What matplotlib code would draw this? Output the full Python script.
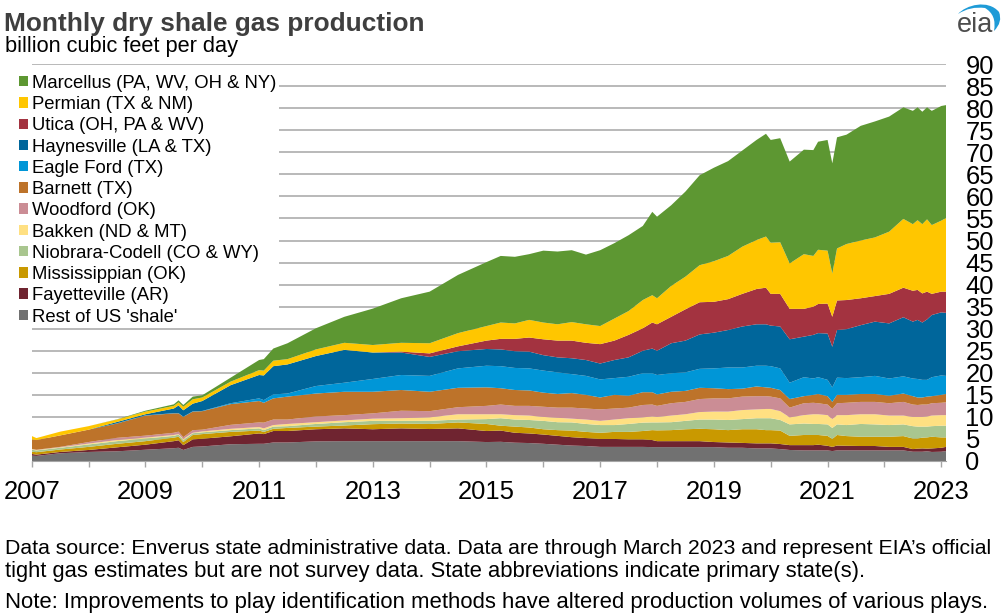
import numpy as np
import matplotlib
matplotlib.use('Agg')
import matplotlib.pyplot as plt
from matplotlib.patches import PathPatch
from matplotlib.path import Path

plt.rcParams['font.family'] = ['Liberation Sans', 'DejaVu Sans']

# months since Jan 2007
months = [0, 1, 6, 12, 18, 24, 30, 31, 32, 34, 36, 42,
          48, 49, 51, 54, 60, 66, 72, 78, 84, 90, 96,
          99, 102, 105, 108, 111, 114, 117, 120, 123, 126, 129, 131, 132, 135, 138, 141, 144,
          147, 150, 153, 155, 156, 158, 160, 163, 165, 166, 168, 169, 170,
          172, 175, 178, 181, 184, 186, 187, 188, 189, 190, 192, 193]

# upper edge of each play in the stack, bcf/d
rest = [1.2, 1.15, 1.75, 2.05, 2.2, 2.55, 2.9, 3.0, 2.5, 3.2, 3.3, 3.8,
        3.9, 3.9, 4.2, 4.2, 4.45, 4.5, 4.5, 4.5, 4.5, 4.5, 4.3,
        4.35, 4.15, 4.07, 3.9, 3.7, 3.5, 3.4, 3.2, 3.2, 3.2, 3.2, 3.15, 3.15, 3.15, 3.15, 3.15, 3.15,
        3.0, 3.0, 2.85, 2.85, 2.85, 2.7, 2.5, 2.4, 2.4, 2.4, 2.4, 2.25, 2.4,
        2.4, 2.4, 2.4, 2.4, 2.4, 2.1, 2.1, 2.1, 2.2, 2.05, 2.1, 2.25]
fayetteville = [1.6, 1.45, 2.05, 2.5, 3.1, 3.7, 4.5, 4.7, 3.6, 4.9, 5.05, 5.6,
                6.25, 6.1, 6.8, 6.8, 7.2, 7.4, 7.2, 7.4, 7.25, 7.4, 6.8,
                6.9, 6.4, 6.25, 6.0, 5.7, 5.4, 5.2, 5.0, 5.0, 4.9, 4.9, 4.75, 4.5, 4.5, 4.5, 4.5, 4.3,
                4.2, 4.1, 4.0, 4.0, 4.0, 3.85, 3.6, 3.6, 3.6, 3.7, 3.45, 3.2, 3.5,
                3.45, 3.4, 3.4, 3.2, 3.2, 2.7, 2.8, 2.85, 2.8, 2.85, 3.0, 3.2]
mississippian = [2.1, 2.0, 2.6, 3.2, 3.9, 4.5, 5.3, 5.5, 4.3, 5.9, 6.1, 6.6,
                 6.9, 6.6, 7.3, 7.5, 7.8, 8.05, 8.35, 8.5, 8.4, 8.75, 8.4,
                 8.0, 7.8, 7.6, 7.2, 7.0, 6.9, 6.6, 6.4, 6.6, 6.6, 6.8, 7.0, 6.95, 7.0, 7.2, 7.3, 7.2,
                 7.0, 7.2, 7.2, 7.0, 7.0, 6.9, 5.7, 5.9, 5.9, 5.9, 5.7, 5.0, 5.9,
                 5.65, 5.5, 5.5, 5.5, 5.65, 5.1, 5.1, 5.3, 5.35, 5.5, 5.35, 5.35]
niobrara = [2.55, 2.4, 3.0, 3.75, 4.5, 5.1, 5.7, 6.0, 4.7, 6.3, 6.5, 7.0,
            7.4, 7.0, 7.8, 7.9, 8.4, 8.8, 9.1, 9.1, 9.1, 9.4, 9.5,
            9.7, 9.4, 9.3, 9.1, 8.8, 8.75, 8.4, 8.15, 8.15, 8.4, 8.7, 8.75, 8.75, 8.8, 9.1, 9.4, 9.4,
            9.3, 9.5, 9.7, 9.7, 9.7, 9.3, 8.3, 8.5, 8.4, 8.4, 8.3, 7.5, 8.3,
            8.15, 8.4, 8.3, 8.15, 8.3, 7.9, 7.8, 7.8, 7.8, 7.9, 8.0, 8.0]
bakken = [2.7, 2.5, 3.1, 3.95, 4.75, 5.3, 5.9, 6.1, 5.0, 6.4, 6.7, 7.3,
          7.7, 7.4, 8.15, 8.4, 8.8, 9.2, 9.6, 9.7, 9.9, 10.6, 10.6,
          10.6, 10.4, 10.3, 10.0, 9.8, 9.6, 9.4, 9.1, 9.4, 9.7, 9.9, 10.1, 10.0, 10.3, 10.6, 11.1, 11.2,
          11.2, 11.55, 11.7, 11.8, 11.8, 11.3, 9.9, 10.4, 10.6, 10.6, 10.4, 9.5, 10.4,
          10.4, 10.6, 10.6, 10.3, 10.3, 10.0, 10.0, 10.0, 10.1, 10.3, 10.4, 10.4]
woodford = [2.75, 2.55, 3.2, 4.3, 5.25, 5.75, 6.4, 6.65, 5.4, 7.0, 7.1, 8.2,
            8.75, 8.7, 9.4, 9.4, 10.1, 10.4, 10.8, 11.4, 11.3, 12.2, 12.5,
            12.8, 12.5, 12.5, 12.3, 12.1, 12.1, 11.9, 11.7, 11.9, 12.1, 12.7, 12.8, 12.5, 13.1, 13.4, 14.05, 14.2,
            14.2, 14.6, 14.7, 14.7, 14.6, 14.2, 12.1, 13.1, 13.2, 13.1, 12.8, 11.8, 13.1,
            13.2, 13.4, 13.4, 13.1, 13.4, 12.8, 12.7, 12.8, 12.8, 13.1, 13.2, 13.3]
barnett = [4.9, 4.75, 5.8, 7.1, 8.5, 10.3, 10.8, 10.8, 10.0, 11.2, 11.3, 12.9,
           13.6, 13.2, 14.2, 14.6, 15.3, 15.7, 15.7, 16.1, 15.7, 16.6, 16.7,
           16.5, 16.1, 16.0, 15.5, 15.2, 15.4, 15.0, 14.4, 15.0, 14.8, 15.6, 15.6, 15.1, 15.7, 15.9, 16.6, 16.5,
           16.3, 16.4, 16.9, 16.7, 16.6, 16.1, 14.05, 14.7, 15.0, 15.2, 14.7, 13.4, 15.0,
           15.0, 15.2, 15.2, 14.8, 15.3, 14.7, 14.4, 14.4, 14.6, 14.7, 15.0, 15.2]
eagle_ford = [4.9, 4.75, 5.8, 7.1, 8.55, 10.35, 10.85, 10.85, 10.05, 11.25, 11.35, 13.1,
              14.2, 13.8, 15.1, 15.3, 17.0, 17.75, 18.6, 19.5, 19.3, 21.0, 21.6,
              21.5, 21.1, 21.0, 20.5, 20.1, 19.7, 19.3, 18.5, 18.8, 19.1, 19.9, 19.9, 19.5, 19.9, 20.1, 20.9, 21.0,
              21.2, 21.2, 21.6, 21.6, 21.5, 21.0, 17.75, 19.0, 18.7, 19.0, 18.4, 16.7, 18.9,
              18.8, 19.0, 19.3, 18.7, 19.2, 18.7, 18.6, 18.4, 18.4, 19.0, 19.4, 19.3]
haynesville = [4.9, 4.75, 5.8, 7.1, 8.85, 10.6, 11.9, 12.6, 11.5, 13.0, 13.6, 17.2,
               19.5, 19.4, 21.5, 21.9, 23.8, 25.2, 24.6, 24.6, 23.6, 24.9, 25.4,
               25.3, 24.9, 24.8, 24.0, 23.5, 23.3, 22.9, 22.1, 22.9, 23.5, 25.0, 25.5, 25.0, 26.7, 27.3, 28.7, 29.1,
               29.7, 30.5, 31.0, 31.0, 30.7, 30.5, 27.6, 28.2, 28.6, 29.0, 28.9, 25.9, 29.7,
               29.9, 30.8, 31.6, 31.2, 32.6, 31.6, 32.0, 31.4, 32.1, 33.1, 33.7, 33.6]
utica = [4.9, 4.75, 5.8, 7.1, 8.85, 10.6, 11.9, 12.6, 11.5, 13.0, 13.6, 17.2,
         19.5, 19.4, 21.5, 21.9, 23.8, 25.2, 24.6, 24.8, 24.4, 26.0, 27.3,
         27.7, 27.7, 28.0, 27.6, 27.3, 27.3, 26.8, 26.5, 27.3, 28.6, 30.1, 31.4, 31.0, 32.7, 34.4, 36.0, 36.1,
         36.7, 37.9, 39.0, 39.3, 37.9, 37.9, 34.5, 34.5, 35.0, 35.6, 35.7, 32.7, 36.4,
         36.5, 36.9, 37.4, 37.9, 39.3, 38.6, 38.8, 38.0, 38.4, 37.9, 38.4, 38.4]
permian = [5.67, 5.2, 6.65, 7.9, 9.4, 11.2, 12.5, 13.3, 12.3, 14.0, 14.4, 18.0,
           20.6, 20.5, 22.75, 23.1, 25.3, 26.8, 26.3, 26.8, 26.7, 29.0, 30.6,
           31.4, 31.2, 32.0, 31.4, 31.0, 31.5, 31.0, 30.6, 32.3, 34.0, 36.5, 37.6, 36.9, 39.7, 41.8, 44.4, 45.3,
           46.5, 48.6, 50.1, 50.9, 49.5, 49.6, 44.8, 46.9, 46.5, 47.9, 47.7, 42.5, 48.2,
           49.2, 50.0, 50.7, 52.0, 54.9, 53.7, 54.6, 53.7, 54.8, 53.5, 54.5, 55.1]
marcellus = [5.67, 5.2, 6.65, 7.9, 9.45, 11.4, 12.85, 13.75, 12.7, 14.6, 14.9, 18.9,
             22.9, 23.1, 25.5, 26.7, 30.1, 32.7, 34.55, 36.9, 38.4, 42.2, 45.1,
             46.5, 46.3, 46.9, 47.7, 47.5, 47.8, 46.8, 47.8, 49.4, 51.2, 53.3, 56.5, 55.4, 58.0, 61.1, 64.8, 66.5,
             68.0, 70.4, 72.8, 74.2, 72.8, 73.2, 67.9, 70.6, 70.5, 72.4, 72.8, 67.5, 73.4,
             74.0, 76.0, 77.0, 78.1, 80.2, 79.4, 80.2, 79.2, 80.2, 79.4, 80.5, 80.7]

labels = ["Rest of US 'shale'", 'Fayetteville (AR)', 'Mississippian (OK)', 'Niobrara-Codell (CO & WY)',
          'Bakken (ND & MT)', 'Woodford (OK)', 'Barnett (TX)', 'Eagle Ford (TX)',
          'Haynesville (LA & TX)', 'Utica (OH, PA & WV)', 'Permian (TX & NM)', 'Marcellus (PA, WV, OH & NY)']
colors = ['#717171', '#6F2430', '#C99900', '#A9C68F', '#FFE082', '#CB8D95',
          '#BD732A', '#0096D7', '#00669B', '#A33340', '#FFC600', '#5D9732']

year_ticks = list(range(0, 193, 12))
year_labels = ['2007', '', '2009', '', '2011', '', '2013', '', '2015', '', '2017', '',
               '2019', '', '2021', '', '2023']
y_ticks = list(range(0, 91, 5))

W, H = 1004, 615
fig = plt.figure(figsize=(W / 100, H / 100), dpi=100)
ax = fig.add_axes([31.7 / W, (H - 461) / H, (946 - 31.7) / W, (461 - 64.1) / H])

tops = np.array([rest, fayetteville, mississippian, niobrara, bakken, woodford,
                 barnett, eagle_ford, haynesville, utica, permian, marcellus])
bands = np.diff(tops, axis=0, prepend=0)
areas = ax.stackplot(months, bands, colors=colors, labels=labels, linewidth=0, zorder=2)

ax.set_xlim(0, 193)
ax.set_ylim(0, 90)
ax.set_xticks(year_ticks)
ax.set_xticklabels(year_labels, fontsize=18.4, color='black')
ax.set_yticks(y_ticks)
ax.set_yticklabels([str(v) for v in y_ticks], fontsize=18.4, color='black', ha='left')
ax.yaxis.tick_right()
ax.tick_params(axis='y', length=0, pad=14)
ax.tick_params(axis='x', length=4.5, width=1, color='#A6A6A6', pad=9)
ax.grid(axis='y', color='#A6A6A6', linewidth=1.1, zorder=1)
ax.set_axisbelow(True)
for name in ['top', 'left', 'right']:
    ax.spines[name].set_visible(False)
ax.spines['bottom'].set_color('#A6A6A6')

# legend goes top down, opposite of stack
handles = areas[::-1]
leg = ax.legend(handles, labels[::-1], loc='upper left', bbox_to_anchor=(16.2 / W, (H - 72) / H),
                bbox_transform=fig.transFigure, fontsize=13.3, frameon=True, facecolor='white',
                edgecolor='none', framealpha=1, fancybox=False, borderpad=0.15, borderaxespad=0,
                labelspacing=0.23, handlelength=0.49, handleheight=0.49, handletextpad=0.22)
leg.set_zorder(5)


def txt(x, y, s, **kw):
    fig.text(x / W, 1 - y / H, s, va='baseline', **kw)


txt(4, 31, 'Monthly dry shale gas production', fontsize=18.9, fontweight='bold', color='#3F3F3F')
txt(5, 52, 'billion cubic feet per day', fontsize=15.7, color='black')
txt(5, 554, 'Data source: Enverus state administrative data. Data are through March 2023 and represent EIA\u2019s official',
    fontsize=15.34, color='black')
txt(5, 577, 'tight gas estimates but are not survey data. State abbreviations indicate primary state(s).',
    fontsize=15.8, color='black')
txt(5, 608, 'Note: Improvements to play identification methods have altered production volumes of various plays.',
    fontsize=15.95, color='black')

# eia logo
txt(957, 32, 'eia', fontsize=19.5, color='#4D4D4D')
arc_px = [(958, 14), (966, 5), (988, -1), (999, 12), (1003, 22), (994, 31), (997, 15), (985, 8), (970, 6), (958, 14)]
arc_codes = [Path.MOVETO, Path.CURVE4, Path.CURVE4, Path.CURVE4, Path.CURVE3, Path.CURVE3,
             Path.CURVE3, Path.CURVE3, Path.CURVE3, Path.CURVE3]
arc_fig = [(x / W, 1 - y / H) for x, y in arc_px]
fig.add_artist(PathPatch(Path(arc_fig, arc_codes), facecolor='#1E9BD7', edgecolor='none',
                         transform=fig.transFigure))

fig.savefig('out.png', dpi=100)
